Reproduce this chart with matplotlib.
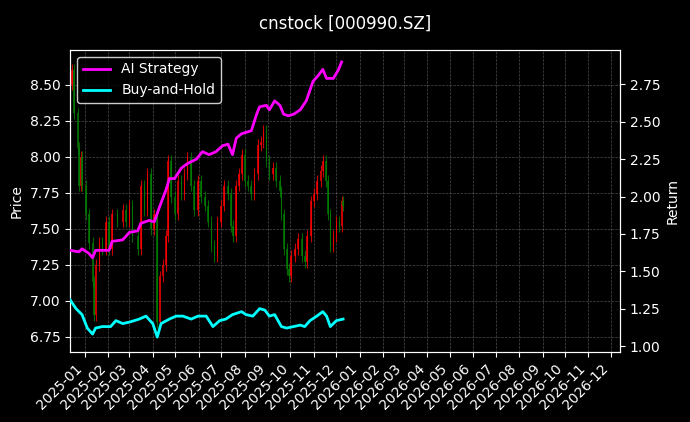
import datetime as dt

import matplotlib.pyplot as plt
import matplotlib.dates as mdates
from matplotlib.lines import Line2D

start = dt.date(2024, 12, 12)

# price path: (day offset from start, close)
price_days = [0, 3, 5, 10, 12, 14, 16, 21, 25, 30, 32, 34, 39, 43, 48, 52, 56, 63, 70, 74,
              79, 83, 90, 94, 99, 103, 108, 112, 116, 119, 123, 128, 130, 134, 139, 143, 148,
              152, 156, 161, 165, 170, 174, 179, 183, 188, 192, 196, 201, 205, 210, 214, 217,
              221, 225, 229, 232, 236, 241, 245, 250, 254, 257, 261, 265, 270, 274, 279, 281,
              284, 288, 291, 294, 299, 303, 308, 312, 315, 320, 324, 328, 333, 336, 340, 343,
              346, 350, 354, 358, 361, 363]
price_close = [8.50, 8.60, 8.30, 8.06, 7.80, 8.00, 7.80, 7.60, 7.40, 7.13, 6.90, 7.25, 7.40,
               7.36, 7.55, 7.36, 7.60, 7.55, 7.63, 7.55, 7.66, 7.45, 7.36, 7.80, 7.63, 7.88,
               7.50, 7.60, 6.85, 7.17, 7.25, 7.45, 7.97, 7.72, 7.60, 7.83, 7.74, 7.88, 7.99,
               7.80, 7.63, 7.83, 7.72, 7.66, 7.55, 7.38, 7.31, 7.55, 7.66, 7.80, 7.74, 7.52,
               7.45, 7.80, 7.88, 8.01, 7.83, 7.80, 7.74, 7.88, 8.08, 8.10, 8.18, 7.97, 7.88,
               7.92, 7.83, 7.76, 7.60, 7.36, 7.22, 7.17, 7.31, 7.36, 7.43, 7.31, 7.27, 7.45,
               7.69, 7.74, 7.83, 7.90, 7.97, 7.83, 7.60, 7.38, 7.45, 7.55, 7.52, 7.69, 7.66]

ai_days = [0, 12, 16, 25, 30, 34, 52, 56, 70, 79, 90, 94, 105, 112, 119, 128, 132, 139, 148,
           156, 168, 176, 185, 194, 203, 210, 216, 221, 228, 241, 248, 252, 261, 265, 272,
           279, 284, 290, 297, 306, 314, 323, 330, 336, 341, 350, 357, 361]
ai_ret = [1.64, 1.63, 1.65, 1.62, 1.59, 1.64, 1.64, 1.70, 1.71, 1.76, 1.77, 1.82, 1.84, 1.83,
          1.93, 2.05, 2.12, 2.12, 2.19, 2.22, 2.25, 2.30, 2.28, 2.30, 2.34, 2.35, 2.28, 2.39,
          2.42, 2.44, 2.55, 2.60, 2.61, 2.58, 2.64, 2.61, 2.55, 2.54, 2.55, 2.58, 2.64, 2.77,
          2.81, 2.85, 2.79, 2.79, 2.85, 2.90]

bh_days = [0, 8, 16, 23, 30, 34, 43, 54, 61, 70, 79, 92, 101, 110, 116, 121, 132, 141, 150,
           161, 170, 181, 190, 199, 207, 216, 228, 234, 243, 252, 259, 265, 272, 281, 288,
           297, 306, 312, 319, 328, 336, 341, 346, 354, 363]
bh_ret = [1.31, 1.25, 1.21, 1.12, 1.08, 1.12, 1.13, 1.13, 1.17, 1.15, 1.16, 1.18, 1.20, 1.15,
          1.06, 1.15, 1.18, 1.20, 1.20, 1.18, 1.20, 1.20, 1.13, 1.17, 1.18, 1.21, 1.23, 1.21,
          1.20, 1.25, 1.24, 1.20, 1.21, 1.13, 1.12, 1.13, 1.14, 1.13, 1.17, 1.20, 1.23, 1.20,
          1.13, 1.17, 1.18]


def to_dates(days):
    return [start + dt.timedelta(days=d) for d in days]


fig = plt.figure(figsize=(6.9, 4.22), dpi=100, facecolor='black')
ax = fig.add_axes([70 / 690, 1 - 352 / 422, 550 / 690, 302 / 422], facecolor='black')

pdates = to_dates(price_days)
opens = [price_close[0]] + price_close[:-1]
for d, o, c in zip(pdates, opens, price_close):
    col = 'red' if c >= o else 'green'
    lo, hi = min(o, c), max(o, c)
    ax.vlines(d, lo - 0.04, hi + 0.04, color=col, lw=0.8, alpha=0.8, zorder=2)
    ax.bar(d, max(hi - lo, 0.01), bottom=lo, width=2.2, color=col, alpha=0.75, zorder=2)

ax.set_ylim(6.645, 8.74)
ax.set_ylabel('Price', color='white')
ax.grid(True, color='gray', ls='--', lw=0.5, alpha=0.6)

ax2 = ax.twinx()
ax2.plot(to_dates(ai_days), ai_ret, color='magenta', lw=2, zorder=3)
ax2.plot(to_dates(bh_days), bh_ret, color='cyan', lw=2, zorder=3)
ax2.set_ylim(0.96, 2.98)
ax2.set_ylabel('Return', color='white')

ax.set_xlim(dt.date(2024, 12, 12), dt.date(2026, 12, 13))
ax.xaxis.set_major_locator(mdates.MonthLocator())
ax.xaxis.set_major_formatter(mdates.DateFormatter('%Y-%m'))
plt.setp(ax.get_xticklabels(), rotation=45, ha='right')

for a in (ax, ax2):
    a.tick_params(colors='white')
    for s in a.spines.values():
        s.set_color('white')

handles = [Line2D([], [], color='magenta', lw=2), Line2D([], [], color='cyan', lw=2)]
leg = ax.legend(handles, ['AI Strategy', 'Buy-and-Hold'], loc='upper left',
                facecolor='black', edgecolor='white', labelcolor='white')
leg.set_zorder(5)

fig.suptitle('cnstock [000990.SZ]', color='white', fontsize=12, y=0.965)
fig.savefig('out.png', facecolor='black')
